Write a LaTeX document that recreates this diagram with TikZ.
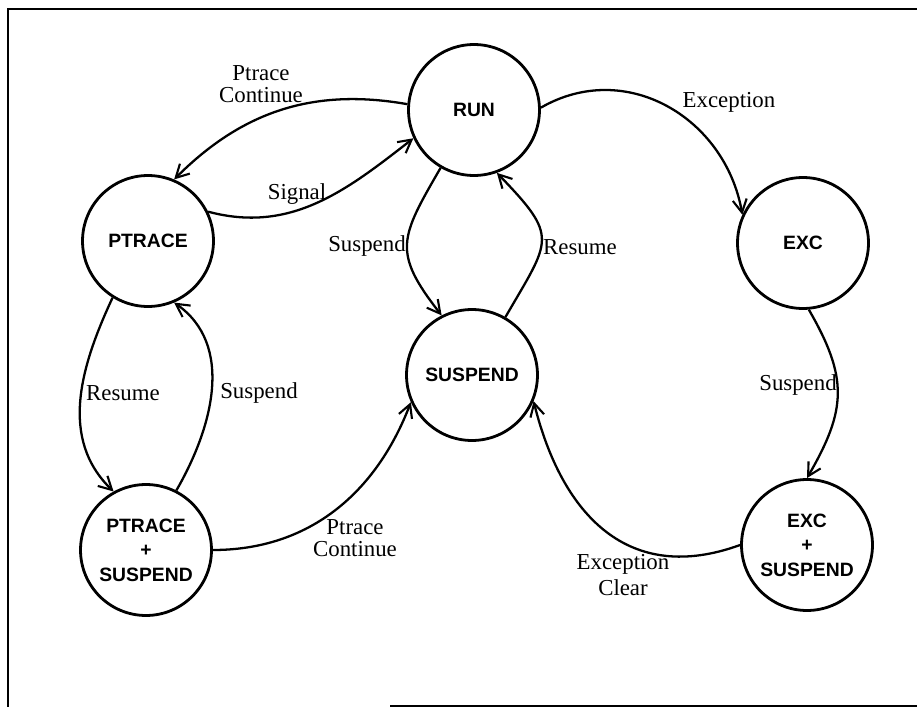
\documentclass[tikz,border=0pt]{standalone}
\usepackage{fontspec}
\setmainfont{Liberation Serif}
\newfontfamily\statefamily{Liberation Sans}
\usetikzlibrary{arrows.meta}

\begin{document}
\begin{tikzpicture}[x=0.02cm,y=0.02cm,
    state/.style={circle,draw,line width=1.6pt,minimum size=2.62cm,inner sep=0,align=center,font=\stnodefont},
    trans/.style={line width=1.3pt,-{Straight Barb[length=2.6mm,width=2.8mm,line width=1.2pt]}},
    lbl/.style={font=\edgelblfont,align=center,inner sep=0}]
    \providecommand{\stnodefont}{\statefamily\bfseries\fontsize{11}{14}\selectfont}
    \providecommand{\edgelblfont}{\fontsize{13}{12.5}\selectfont}
    \useasboundingbox (0,0) rectangle (917,-710);
    % frame of the scanned figure
    \draw[line width=1.5pt] (917,-9) -- (8,-9) -- (8,-707);
    \draw[line width=1.5pt] (390,-706) -- (917,-706);
    % states
    \node[state] (run) at (474,-110) {RUN};
    \node[state] (ptrace) at (148,-241) {PTRACE};
    \node[state] (ptsusp) at (146,-550) {PTRACE\\+\\SUSPEND};
    \node[state] (susp) at (472,-375) {SUSPEND};
    \node[state] (exc) at (803,-243) {EXC};
    \node[state] (excsusp) at (807,-545) {EXC\\+\\SUSPEND};
    % transitions
    \draw[trans] (run.175) to[out=170,in=45] (ptrace.67);
    \draw[trans] (ptrace.26) to[out=-15,in=218] (run.205);
    \draw[trans] (run.240) to[out=240,in=128,looseness=1.4] (susp.117);
    \draw[trans] (susp.60) to[out=60,in=314,looseness=1.6] (run.290);
    \draw[trans] (run.2) to[out=30,in=100,looseness=1.1] (exc.155);
    \draw[trans] (exc.275) to[out=-60,in=60,looseness=1.2] (excsusp.90);
    \draw[trans] (excsusp.180) to[out=200,in=284,looseness=1.2] (susp.337);
    \draw[trans] (ptsusp.0) to[out=0,in=249] (susp.204);
    \draw[trans] (ptrace.238) to[out=245,in=136] (ptsusp.119);
    \draw[trans] (ptsusp.63) to[out=60,in=325] (ptrace.293);
    % labels
    \node[lbl] (ptcontA) at (261,-84) {Ptrace\\Continue};
    \node[lbl] (signal) at (297,-194) {Signal};
    \node[lbl] (suspA) at (367,-246) {Suspend};
    \node[lbl] (resumeA) at (580,-247) {Resume};
    \node[lbl] (exception) at (729,-102) {Exception};
    \node[lbl] (suspB) at (798,-385) {Suspend};
    \node[lbl] (excclear) at (623,-575) {Exception\\[2.5pt]Clear};
    \node[lbl] (ptcontB) at (355,-538) {Ptrace\\Continue};
    \node[lbl] (resumeB) at (123,-393) {Resume};
    \node[lbl] (suspC) at (259,-393) {Suspend};
\end{tikzpicture}
\end{document}
